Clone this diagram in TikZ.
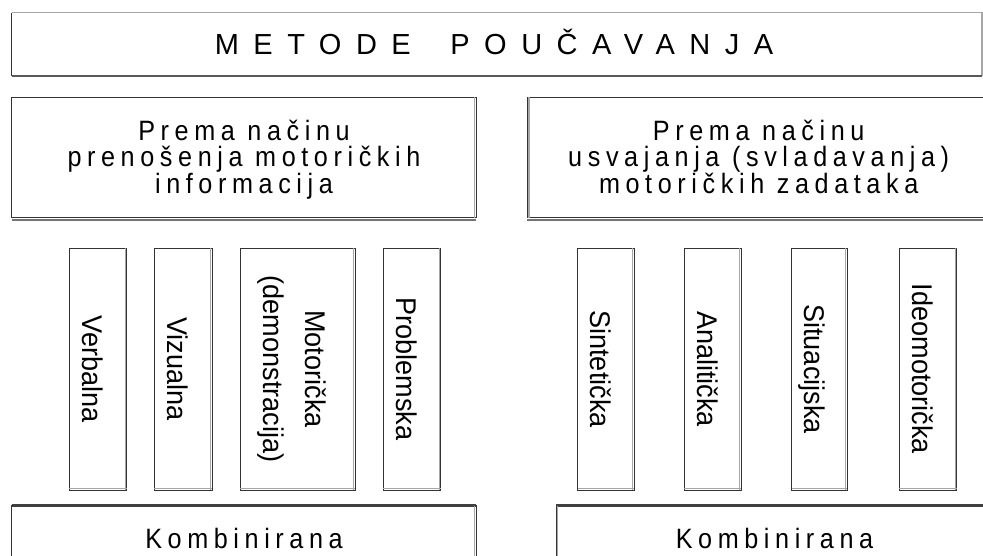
\documentclass[tikz,border=0pt]{standalone}
\usepackage{fontspec}
\setmainfont{Liberation Sans}
\newfontfamily\hfont[LetterSpace=20,FakeStretch=0.9]{Liberation Sans}
\newfontfamily\vfont[FakeStretch=0.95]{Liberation Sans}
\newfontfamily\tfont[LetterSpace=50]{Liberation Sans}
\begin{document}
\begin{tikzpicture}[x=1pt,y=-1pt,
  frame/.style={inner sep=0pt, outer sep=0pt},
  box/.style={frame, draw=black!80, line width=1pt},
  vbox/.style={box, minimum width=#1, minimum height=241.7pt},
  lite/.style={draw=black!35, line width=1.2pt},
  shade/.style={draw=black!55, line width=2pt},
  htext/.style={inner sep=0pt, font=\hfont\fontsize{28}{26.5}\selectfont, align=center, text=black},
  ktext/.style={inner sep=0pt, anchor=base, font=\hfont\fontsize{28}{28}\selectfont, text=black},
  vtext/.style={inner sep=0pt, anchor=base, rotate=-90, font=\vfont\fontsize{28.5}{28.5}\selectfont, text=black}]
\useasboundingbox (0,0) rectangle (983,555);
\clip (0,0) rectangle (983,555);
\fill[white] (0,0) rectangle (983,555);

% title box
\node[frame, minimum width=970.3pt, minimum height=63.3pt] (title) at (496.85,44.35) {};
\draw[lite] (title.south east) -- (title.north east) -- (title.north west);
\draw[draw=black!80, line width=1pt] (title.north west) -- (title.south west);
\draw[draw=black!65, line width=2.2pt] (title.south west) -- (title.south east);
\node[inner sep=0pt, anchor=base, font=\tfont\fontsize{29}{29}\selectfont, text=black] (titletext) at (494,54) {METODE\hspace{17pt} POUČAVANJA};

% middle boxes
\node[box, minimum width=464.3pt, minimum height=120.2pt] (midL) at (243.85,157.4) {};
\node[box, minimum width=463pt, minimum height=120.2pt] (midR) at (758.8,157.4) {};
\draw[shade] ([yshift=-2pt]midL.south west) -- ([yshift=-2pt]midL.south east);
\draw[shade] ([yshift=-2pt]midR.south west) -- ([yshift=-2pt]midR.south east);
\draw[lite] ([xshift=-1.6pt]midL.north east) -- ([xshift=-1.6pt]midL.south east);
\draw[lite] ([xshift=1.6pt]midR.north west) -- ([xshift=1.6pt]midR.south west);
\node[htext] (midLtext) at (244,159.3) {Prema načinu\\prenošenja motoričkih\\informacija};
\node[htext] (midRtext) at (758.7,159.3) {Prema načinu\\usvajanja (svladavanja)\\motoričkih zadataka\vphantom{j}};

% vertical boxes
\node[vbox=57.4pt] (verb) at (98,369.15) {};
\node[vbox=58pt] (viz) at (183,369.15) {};
\node[vbox=115pt] (mot) at (297.5,369.15) {};
\node[vbox=57.7pt] (prob) at (411.85,369.15) {};
\node[vbox=56.3pt] (sint) at (605.85,369.15) {};
\node[vbox=57pt] (anal) at (712.5,369.15) {};
\node[vbox=55.6pt] (sit) at (819.5,369.15) {};
\node[vbox=57.7pt] (ideo) at (927.85,369.15) {};
\foreach \b in {verb,viz,mot,prob,sint,anal,sit,ideo}{
  \draw[lite] ([xshift=-1.6pt]\b.north east) -- ([xshift=-1.6pt]\b.south east);
  \draw[lite] ([yshift=1.2pt]\b.south west) -- ([yshift=1.2pt]\b.south east);
}
\node[vtext] (verbtext) at (82.5,369) {Verbalna};
\node[vtext] (viztext) at (167.5,369) {Vizualna};
\node[vtext] (mottext) at (305,369) {Motorička};
\node[vtext] (demotext) at (263,369) {(demonstracija)};
\node[vtext] (probtext) at (396.5,369) {Problemska};
\node[vtext] (sinttext) at (590.5,369) {Sintetička};
\node[vtext] (analtext) at (697,369) {Analitička};
\node[vtext] (sittext) at (804,369) {Situacijska};
\node[vtext] (ideotext) at (912.5,369) {Ideomotorička};

% bottom boxes
\node[box, minimum width=464.3pt, minimum height=100pt] (botL) at (243.85,555.7) {};
\node[box, minimum width=440pt, minimum height=100pt] (botR) at (776,555.7) {};
\draw[draw=black!75, line width=2.5pt] (botL.north west) -- (botL.north east);
\draw[draw=black!75, line width=2.5pt] (botR.north west) -- (botR.north east);
\draw[lite] ([xshift=-1.6pt]botL.north east) -- ([xshift=-1.6pt]botL.south east);
\draw[lite] ([xshift=1.6pt]botR.north west) -- ([xshift=1.6pt]botR.south west);
\node[ktext] (botLtext) at (244,548) {Kombinirana};
\node[ktext] (botRtext) at (774.5,548) {Kombinirana};
\end{tikzpicture}
\end{document}
